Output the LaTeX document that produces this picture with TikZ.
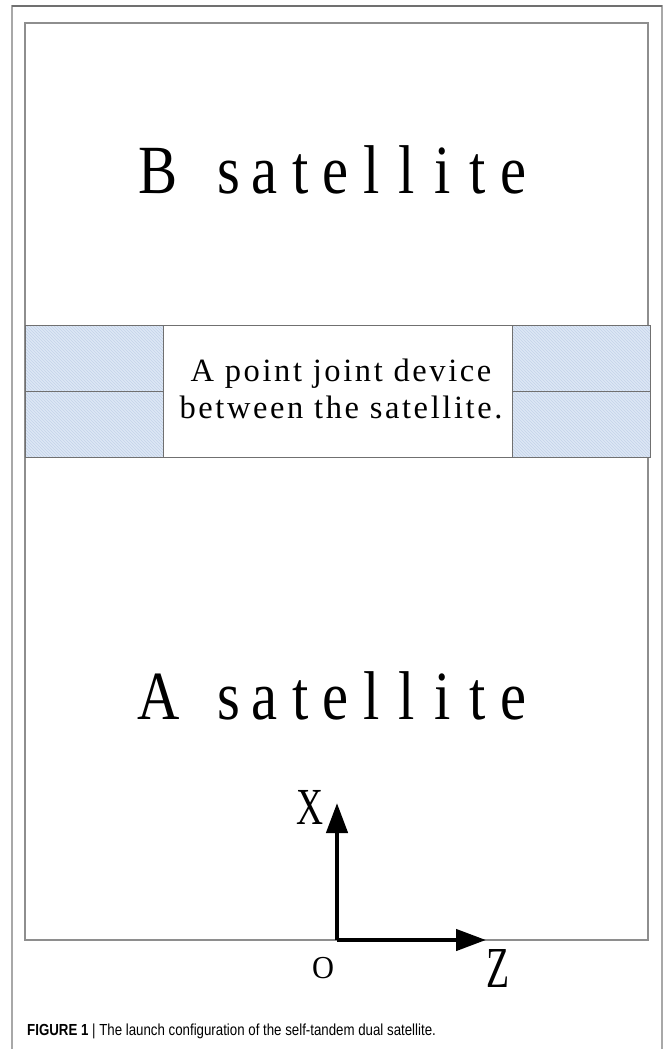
\documentclass[tikz,border=0pt]{standalone}
\usepackage{fontspec}
\setmainfont{Liberation Serif}
\newfontfamily\capfont{Liberation Sans}
\newfontfamily\boxfont[LetterSpace=8]{Liberation Serif}
\usetikzlibrary{patterns,arrows.meta}
\newlength\monow
\def\monoloop#1{\ifx#1\relax\else\makebox[\monow][c]{#1}\expandafter\monoloop\fi}
\newcommand\monotext[2]{\setlength\monow{#1}\monoloop#2\relax}
\definecolor{hatchfill}{HTML}{DDE7F5}
\definecolor{hatchline}{HTML}{C4D3EA}
\definecolor{framegray}{HTML}{A8A8A8}
\definecolor{innergray}{HTML}{8E8E8E}
\definecolor{bandgray}{HTML}{707070}
\tikzset{
  sattext/.style={inner sep=0pt, anchor=base, font=\fontsize{69}{69}\selectfont},
  axislabel/.style={inner sep=0pt, anchor=base},
  hatchbox/.style={fill=hatchfill},
  hatchlines/.style={pattern=north west lines, pattern color=hatchline},
  axis/.style={line width=4.5pt, -{Triangle[length=30pt,width=21pt]}},
}
\begin{document}
\begin{tikzpicture}[x=1pt,y=-1pt]
\useasboundingbox (0,0) rectangle (663,1049);
\fill[white] (0,0) rectangle (663,1049);
% outer frame
\draw[framegray, line width=1.5pt] (12,1049) -- (12,6) -- (662,6) -- (662,1049);
\draw[bandgray, line width=1.2pt] (12,6) -- (662,6);
% inner rectangle
\draw[innergray, line width=1.2pt] (25,23) rectangle (648,940);
% band
\fill[hatchbox] (25,325) rectangle (163,457);
\path[hatchlines] (25,325) rectangle (163,457);
\fill[hatchbox] (512,325) rectangle (650,457);
\path[hatchlines] (512,325) rectangle (650,457);
\fill[white] (163,325) rectangle (512,457);
\draw[bandgray, line width=1pt] (25,325) rectangle (650,457);
\draw[bandgray, line width=1pt] (163,325) -- (163,457);
\draw[bandgray, line width=1pt] (512,325) -- (512,457);
\draw[bandgray, line width=1pt] (25,391) -- (163,391);
\draw[bandgray, line width=1pt] (512,391) -- (650,391);
% texts
\node[sattext] (bsat) at (336,193) {\scalebox{0.85}[1]{\monotext{41.8pt}{B~satellite}}};
\node[sattext] (asat) at (336,719) {\scalebox{0.85}[1]{\monotext{41.8pt}{A~satellite}}};
\node[inner sep=0pt, align=center, font=\boxfont\fontsize{32.5}{37}\selectfont] (joint) at (341,389)
  {A point joint device\\between the satellite.};
% axes
\coordinate (o) at (337,940);
\coordinate (xt) at (337,803);
\coordinate (zt) at (486,940);
\draw[axis] (o) -- (xt);
\draw[axis] (o) -- (zt);
\node[axislabel, font=\fontsize{52}{52}\selectfont] (xl) at (310,824) {\scalebox{0.72}[1]{X}};
\node[axislabel, font=\fontsize{58}{58}\selectfont] (zl) at (498,987) {\scalebox{0.65}[1]{Z}};
\node[axislabel, font=\fontsize{32}{32}\selectfont] (ol) at (323,978) {\scalebox{0.95}[1]{O}};
% caption
\node[anchor=base west, inner sep=0pt, font=\capfont\fontsize{16}{17}\selectfont] (cap) at (27,1035)
  {\scalebox{0.83}[1]{\textbf{FIGURE 1} | The launch configuration of the self-tandem dual satellite.}};
\end{tikzpicture}
\end{document}
